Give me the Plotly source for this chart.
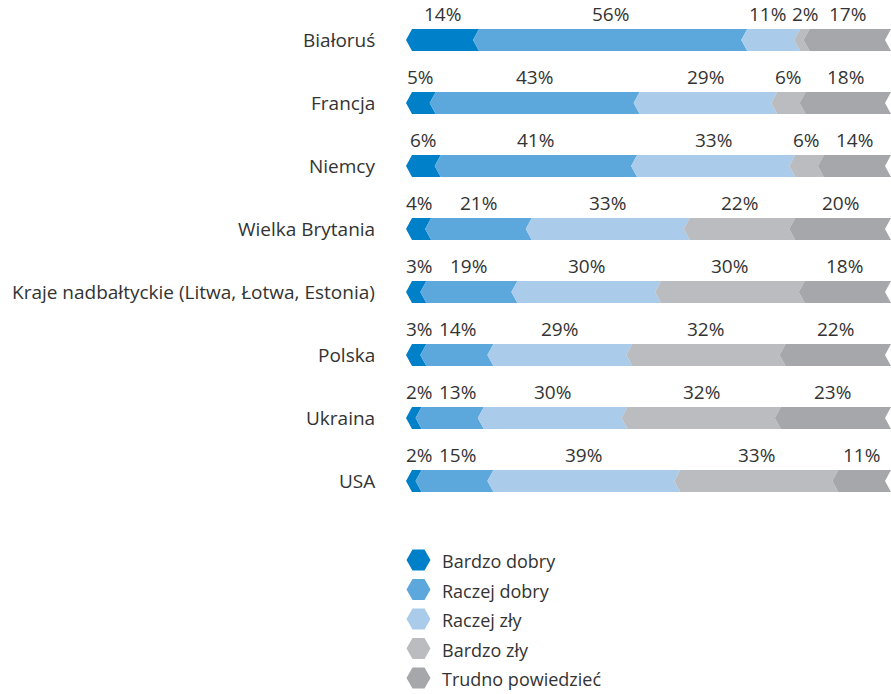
import plotly.graph_objects as go

# ---------------- data ----------------
countries = [
    "Białoruś",
    "Francja",
    "Niemcy",
    "Wielka Brytania",
    "Kraje nadbałtyckie (Litwa, Łotwa, Estonia)",
    "Polska",
    "Ukraina",
    "USA",
]
categories = ["Bardzo dobry", "Raczej dobry", "Raczej zły", "Bardzo zły", "Trudno powiedzieć"]
bardzo_dobry = [14, 5, 6, 4, 3, 3, 2, 2]
raczej_dobry = [56, 43, 41, 21, 19, 14, 13, 15]
raczej_zly = [11, 29, 33, 33, 30, 29, 30, 39]
bardzo_zly = [2, 6, 6, 22, 30, 32, 32, 33]
trudno = [17, 18, 14, 20, 18, 22, 23, 11]

colors = ["#0080C8", "#5CA7DB", "#AACBEA", "#BBBCC0", "#A6A7AB"]
TEXT = "#333333"
FONT = "Open Sans"

# ---------------- layout constants ----------------
W, H = 891, 694
ML = 406                 # left edge of the plotting area (px)
PX_PER_UNIT = 4.79       # px per percentage point
XMAX = (W - ML) / PX_PER_UNIT
ROW0_PX, ROW_STEP = 40, 63
BAR_H_PX, TIP_PX = 22, 6
FS = 19
LEG_FS = 18
LABEL_DY_PX = 26

y_top = ROW0_PX / ROW_STEP
y_bot = y_top - H / ROW_STEP
tip = TIP_PX / PX_PER_UNIT
hh = BAR_H_PX / 2 / ROW_STEP
label_dy = LABEL_DY_PX / ROW_STEP

series = [bardzo_dobry, raczej_dobry, raczej_zly, bardzo_zly, trudno]
n = len(countries)

fig = go.Figure()

# bars (chevron segments)
for ci, cat in enumerate(categories):
    xs, ys = [], []
    for r in range(n):
        total = sum(s[r] for s in series)
        a = sum(series[k][r] for k in range(ci)) / total * 100
        b = a + series[ci][r] / total * 100
        y = -r
        xs += [a, a + tip, b + tip, b, b + tip, a + tip, a, None]
        ys += [y, y + hh, y + hh, y, y - hh, y - hh, y, None]
    fig.add_trace(go.Scatter(
        x=xs, y=ys, mode="lines", fill="toself", fillcolor=colors[ci],
        line=dict(width=0, color=colors[ci]), hoverinfo="skip", showlegend=False,
        name=cat,
    ))


def est_width_units(txt):
    px = 0.0
    for ch in txt:
        px += 0.826 * FS if ch == "%" else 0.572 * FS
    return px / PX_PER_UNIT


def resolve(c, w, lo, hi, gap):
    c = list(c)
    for _ in range(200):
        moved = False
        for i in range(len(c) - 1):
            ov = (c[i] + w[i] / 2 + gap) - (c[i + 1] - w[i + 1] / 2)
            if ov > 1e-6:
                c[i] -= ov / 2
                c[i + 1] += ov / 2
                moved = True
        if c[0] - w[0] / 2 < lo:
            c[0] = lo + w[0] / 2
            moved = True
        if c[-1] + w[-1] / 2 > hi:
            c[-1] = hi - w[-1] / 2
            moved = True
        if not moved:
            break
    return c


annotations = []
gap_units = 6 / PX_PER_UNIT
for r in range(n):
    total = sum(s[r] for s in series)
    centers, widths, texts = [], [], []
    acc = 0.0
    for ci in range(len(series)):
        v = series[ci][r]
        a = acc / total * 100
        b = (acc + v) / total * 100
        acc += v
        t = f"{v}%"
        texts.append(t)
        centers.append((a + b) / 2 + tip / 2)
        widths.append(est_width_units(t))
    pos = resolve(centers, widths, 0.0, XMAX - 0.3, gap_units)
    for t, x in zip(texts, pos):
        annotations.append(dict(
            x=x, y=-r + label_dy, xref="x", yref="y", text=t, showarrow=False,
            xanchor="center", yanchor="middle",
            font=dict(family=FONT, size=FS, color=TEXT),
        ))
    annotations.append(dict(
        x=0, xref="paper", xshift=-29, y=-r, yref="y", text=countries[r],
        showarrow=False, xanchor="right", yanchor="middle",
        font=dict(family=FONT, size=FS, color=TEXT),
    ))

# legend (custom, drawn on an overlay axis in pixel units)
LEG_X_MARK = 418.5 - ML
LEG_X_TEXT = 440 - ML
LEG_Y0, LEG_STEP = 560, 29.5
fig.add_trace(go.Scatter(
    x=[LEG_X_MARK] * len(categories),
    y=[LEG_Y0 + j * LEG_STEP for j in range(len(categories))],
    xaxis="x2", yaxis="y2", mode="markers",
    marker=dict(symbol="hexagon2", size=24, color=colors, line=dict(width=0)),
    hoverinfo="skip", showlegend=False, cliponaxis=False,
))
for j, cat in enumerate(categories):
    annotations.append(dict(
        x=LEG_X_TEXT, y=LEG_Y0 + j * LEG_STEP + 1, xref="x2", yref="y2", text=cat,
        showarrow=False, xanchor="left", yanchor="middle",
        font=dict(family=FONT, size=LEG_FS, color=TEXT),
    ))

fig.update_layout(
    width=W, height=H,
    margin=dict(l=ML, r=0, t=0, b=0, pad=0),
    paper_bgcolor="white", plot_bgcolor="white",
    showlegend=False,
    xaxis=dict(range=[0, XMAX], visible=False, fixedrange=True),
    yaxis=dict(range=[y_bot, y_top], visible=False, fixedrange=True),
    xaxis2=dict(range=[0, W - ML], overlaying="x", visible=False, fixedrange=True),
    yaxis2=dict(range=[H, 0], overlaying="y", visible=False, fixedrange=True),
    annotations=annotations,
    font=dict(family=FONT, color=TEXT),
)

fig.write_html(
    "out.html",
    config={"displayModeBar": False},
    post_script="document.body.style.margin='0';document.body.style.overflow='hidden';",
)
